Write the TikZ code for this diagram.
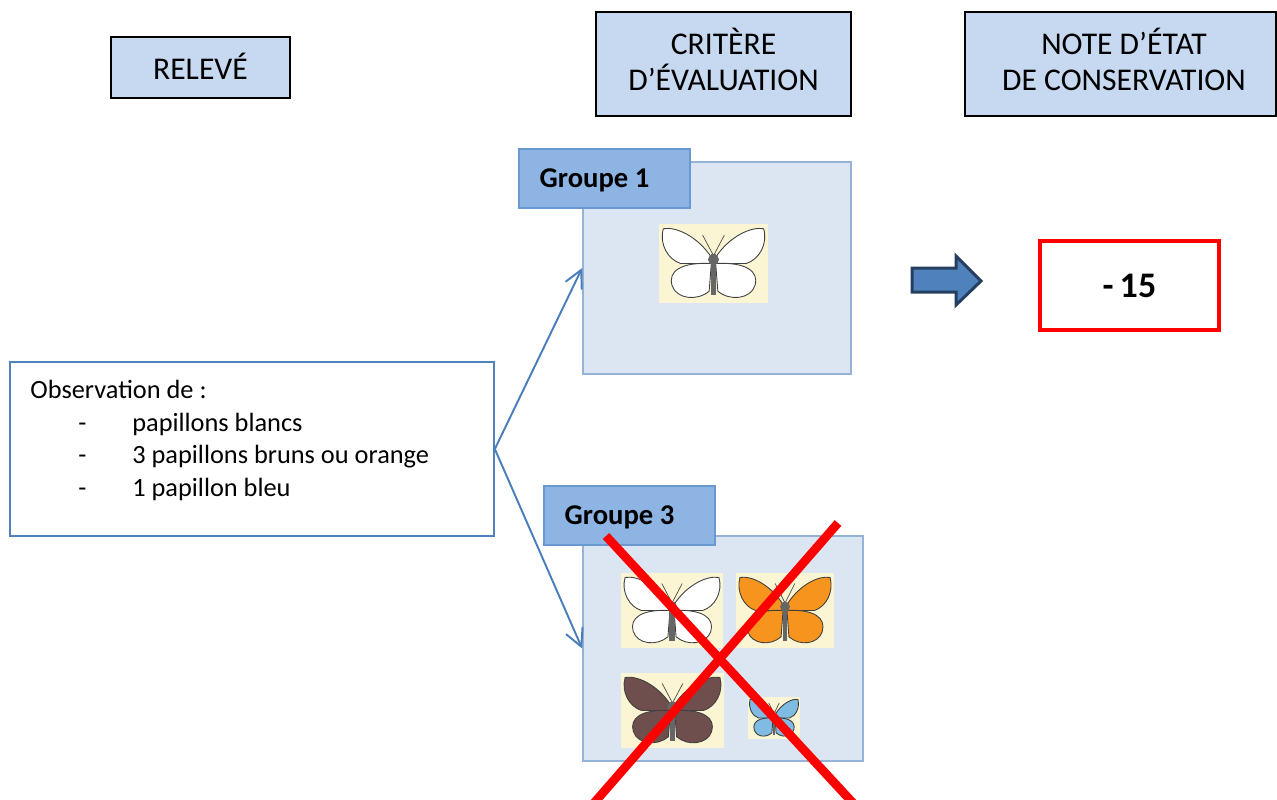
\documentclass[tikz,border=0pt]{standalone}
\usepackage{fontspec}
\setmainfont{Carlito}
\usepackage{tikz}
\usetikzlibrary{arrows.meta}

\definecolor{entete}{HTML}{C6D9F1}
\definecolor{panfond}{HTML}{DCE6F2}
\definecolor{panbord}{HTML}{95B3D7}
\definecolor{etiqfond}{HTML}{8EB4E3}
\definecolor{etiqbord}{HTML}{6A98D0}
\definecolor{bleulien}{HTML}{4A7EBB}
\definecolor{flechefond}{HTML}{4F81BD}
\definecolor{flechebord}{HTML}{243F60}
\definecolor{fondpap}{HTML}{FBF5D3}
\definecolor{brun}{HTML}{6E4F4E}
\definecolor{orangepap}{HTML}{F7941D}
\definecolor{bleupap}{HTML}{80BBE3}

% papillon : x, y, largeur, hauteur, couleur des ailes
\newcommand{\papillon}[5]{%
  \fill[fondpap] (#1,#2) rectangle ++(#3,#4);
  \begin{scope}[shift={(#1+#3/2,#2)}, xscale=#3, yscale=#4]
    \foreach \s in {1,-1} {
      \begin{scope}[xscale=\s]
        \filldraw[fill=#5, draw=black!75, line width=0.5pt]
          (0.02,0.42) .. controls (0.15,0.15) and (0.35,0.03) .. (0.46,0.06)
          .. controls (0.5,0.25) and (0.42,0.45) .. (0.3,0.5) -- (0.02,0.5) -- cycle;
        \filldraw[fill=#5, draw=black!75, line width=0.5pt]
          (0.02,0.5) .. controls (0.3,0.48) and (0.42,0.6) .. (0.38,0.78)
          .. controls (0.34,0.95) and (0.15,0.98) .. (0.04,0.85) -- cycle;
        \draw[black!70, line width=0.4pt] (0,0.4) -- (0.1,0.14);
      \end{scope}
    }
    \fill[black!60] (-0.025,0.38) rectangle (0.025,0.9);
    \fill[black!60] (0,0.45) ellipse (0.05 and 0.07);
  \end{scope}
}

\begin{document}
\begin{tikzpicture}[x=0.02cm, y=-0.02cm,
  titre/.style={draw=black, line width=1.4pt, fill=entete, inner sep=0pt},
  titretexte/.style={align=center, inner sep=0pt,
    font=\fontsize{18}{20.5}\selectfont},
  panneau/.style={draw=panbord, line width=1pt, fill=panfond,
    minimum height=4.24cm, inner sep=0pt},
  etiquette/.style={draw=etiqbord, line width=1pt, fill=etiqfond,
    minimum width=3.42cm, minimum height=1.18cm, inner sep=0pt, text depth=0pt,
    font=\bfseries\fontsize{16.3}{20}\selectfont},
  lien/.style={bleulien, line width=1.1pt,
    -{Straight Barb[length=0.35cm, width=0.36cm]}},
  croix/.style={red, line width=5pt}]
\useasboundingbox (0,0) rectangle (1277,799);

% en-tetes
\node[titre, minimum width=3.58cm, minimum height=1.22cm] (releve) at (200.5,67.5) {};
\node[titretexte] (relevetexte) at (200.5,66) {RELEVÉ};
\node[titre, minimum width=5.1cm, minimum height=2.08cm] (critere) at (723.5,64) {};
\node[titretexte] (criteretexte) at (723.5,59) {CRITÈRE\\D’ÉVALUATION};
\node[titre, minimum width=6.22cm, minimum height=2.08cm] (note) at (1120.5,64) {};
\node[titretexte] (notetexte) at (1124,59) {NOTE D’ÉTAT\\DE CONSERVATION};

% releve
\node[draw=flechefond, line width=1pt, fill=white, minimum width=9.68cm,
  minimum height=3.48cm] (obs) at (252,449) {};
\node[anchor=north west, inner sep=0pt, align=left,
  font=\fontsize{15}{18.5}\selectfont] (obstexte) at (30,380)
  {Observation de :\\
   \hspace*{0.96cm}\makebox[1.08cm][l]{-}papillons blancs\\
   \hspace*{0.96cm}\makebox[1.08cm][l]{-}3 papillons bruns ou orange\\
   \hspace*{0.96cm}\makebox[1.08cm][l]{-}1 papillon bleu};

% groupe 1
\node[panneau, minimum width=5.36cm] (panneau1) at (717,268) {};
\node[etiquette] (groupe1) at (604.5,178.5) {\hspace*{-0.4cm}Groupe 1};
\papillon{659}{224}{109}{79}{white}

% groupe 3
\node[panneau, minimum width=5.6cm, minimum height=4.5cm] (panneau3) at (723,648.5) {};
\node[etiquette] (groupe3) at (629.5,515.5) {\hspace*{-0.4cm}Groupe 3};
\papillon{621}{573}{102}{75}{white}
\papillon{736}{573}{98}{75}{orangepap}
\papillon{621}{673}{103}{75}{brun}
\papillon{748}{697}{52}{42}{bleupap}
\draw[croix] (606,536) -- (853,803);
\draw[croix] (838,523) -- (594,803);

% liens
\draw[lien] (obs.east) -- (panneau1.west);
\draw[lien] (obs.east) -- (panneau3.west);

% fleche et note
\draw[fill=flechefond, draw=flechebord, line width=1.7pt]
  (912,268) -- (956,268) -- (956,256) -- (981,281) -- (956,305) -- (956,292) -- (912,292) -- cycle;
\node[draw=red, line width=2.6pt, minimum width=3.58cm, minimum height=1.78cm,
  font=\bfseries\fontsize{20.5}{24}\selectfont] (resultat) at (1129.5,285.5) {-\,15};
\end{tikzpicture}
\end{document}
